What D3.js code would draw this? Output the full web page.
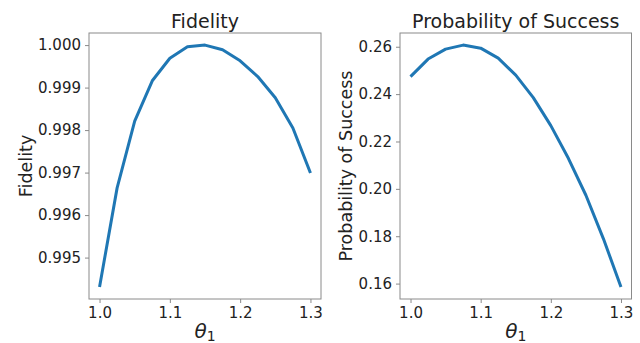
<!DOCTYPE html>
<html>
<head>
<meta charset="utf-8">
<script src="https://cdn.jsdelivr.net/npm/d3@7"></script>
<style>
  html, body { margin: 0; padding: 0; background: #fff; }
  svg { display: block; }
  text { font-family: "DejaVu Sans", sans-serif; fill: #222; }
</style>
</head>
<body>
<script>
const theta = [1.0, 1.025, 1.05, 1.075, 1.1, 1.125, 1.15, 1.175, 1.2, 1.225, 1.25, 1.275, 1.3];
const fidelity = [0.99431, 0.99664, 0.99821, 0.99916, 0.99969, 0.99996, 1.00000, 0.99989, 0.99963, 0.99926, 0.99876, 0.99805, 0.99699];
const success = [0.2474, 0.2548, 0.2590, 0.2607, 0.2594, 0.2552, 0.2480, 0.2385, 0.2267, 0.2129, 0.1973, 0.1789, 0.1586];
const xTicks = [1.0, 1.1, 1.2, 1.3];
const fidTicks = [0.995, 0.996, 0.997, 0.998, 0.999, 1.000];
const sucTicks = [0.16, 0.18, 0.20, 0.22, 0.24, 0.26];

const W = 640, H = 343;
const svg = d3.select("body").append("svg").attr("width", W).attr("height", H);

function pad(ext) {
  const m = (ext[1] - ext[0]) * 0.05;
  return [ext[0] - m, ext[1] + m];
}

function panel(opts) {
  const { left, right, top, bottom, values, yTicks, yFmt, title, ylabel, ylabelX } = opts;
  const x = d3.scaleLinear().domain(pad(d3.extent(theta))).range([left, right]);
  const y = d3.scaleLinear().domain(pad(d3.extent(values))).range([bottom, top]);
  const g = svg.append("g");

  // x axis
  const xa = g.append("g").attr("transform", `translate(0,${bottom})`)
    .call(d3.axisBottom(x).tickValues(xTicks).tickFormat(d3.format(".1f")).tickSize(4).tickPadding(4));
  const ya = g.append("g").attr("transform", `translate(${left},0)`)
    .call(d3.axisLeft(y).tickValues(yTicks).tickFormat(d3.format(yFmt)).tickSize(4).tickPadding(4));
  [xa, ya].forEach(a => {
    a.select(".domain").remove();
    a.selectAll(".tick line").attr("stroke", "#8a8a8a");
    a.selectAll(".tick text").attr("font-size", 15).attr("fill", "#222")
      .attr("font-family", "DejaVu Sans, sans-serif");
  });

  // frame
  g.append("rect").attr("x", left).attr("y", top)
    .attr("width", right - left).attr("height", bottom - top)
    .attr("fill", "none").attr("stroke", "#8a8a8a").attr("stroke-width", 1);

  // line
  const line = d3.line().x((d, i) => x(theta[i])).y(d => y(d));
  g.append("path").datum(values).attr("d", line)
    .attr("fill", "none").attr("stroke", "#1f77b4").attr("stroke-width", 3)
    .attr("stroke-linejoin", "round").attr("stroke-linecap", "butt");

  // title
  g.append("text").attr("x", (left + right) / 2).attr("y", 28)
    .attr("text-anchor", "middle").attr("font-size", 19).text(title);

  // y label
  g.append("text").attr("transform", `translate(${ylabelX},${(top + bottom) / 2}) rotate(-90)`)
    .attr("text-anchor", "middle").attr("font-size", 17.5).text(ylabel);

  // x label theta_1
  const xl = g.append("text").attr("x", (left + right) / 2).attr("y", 338)
    .attr("text-anchor", "middle").attr("font-size", 20);
  xl.append("tspan").attr("font-style", "italic").text("θ");
  xl.append("tspan").attr("font-size", 14).attr("dy", 3).text("1");
}

panel({ left: 89, right: 321, top: 33, bottom: 299, values: fidelity, yTicks: fidTicks,
  yFmt: ".3f", title: "Fidelity", ylabel: "Fidelity", ylabelX: 32 });
panel({ left: 400, right: 631.5, top: 33, bottom: 299, values: success, yTicks: sucTicks,
  yFmt: ".2f", title: "Probability of Success", ylabel: "Probability of Success", ylabelX: 352 });
</script>
</body>
</html>
